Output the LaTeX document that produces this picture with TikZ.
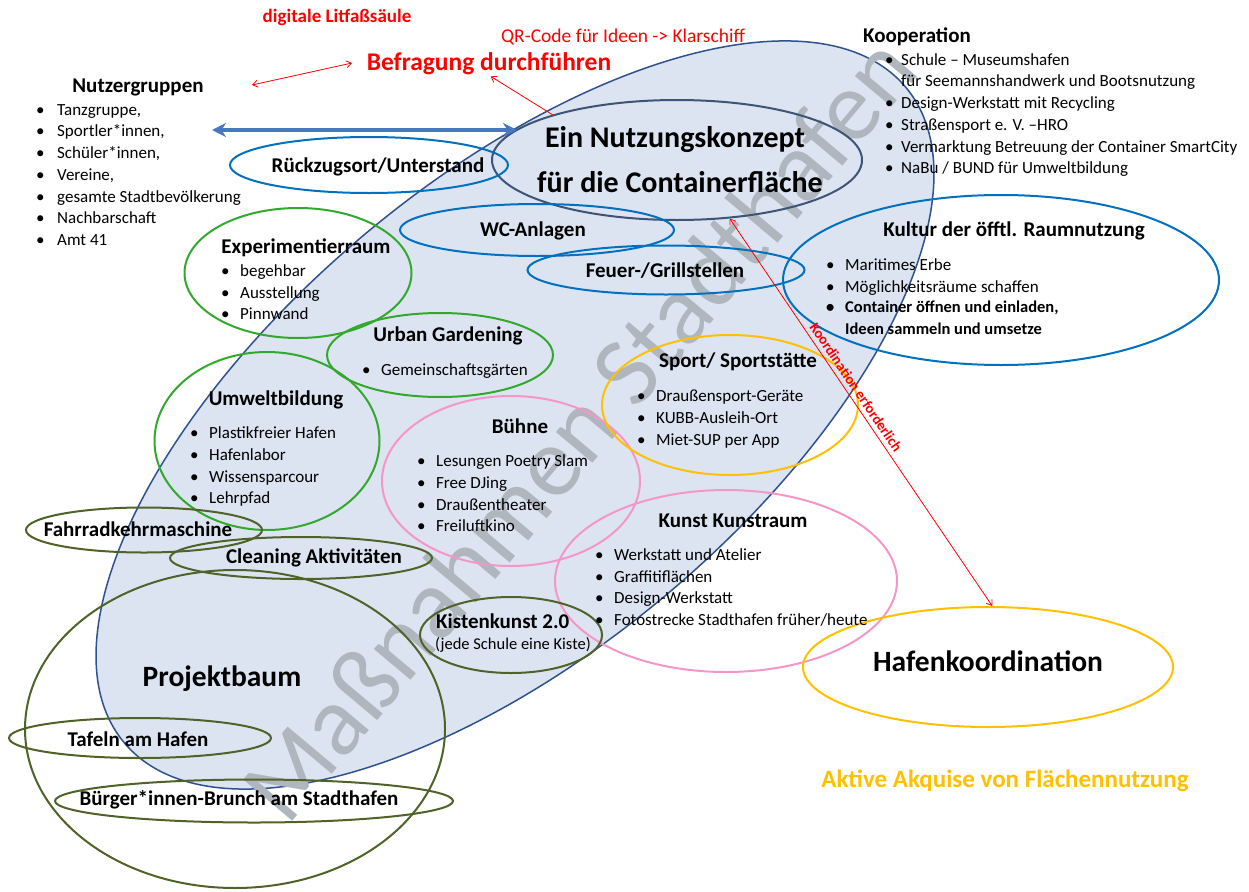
\documentclass[tikz,border=0pt]{standalone}
\usepackage{fontspec}
\setmainfont{Carlito}
\usetikzlibrary{shapes.geometric,arrows.meta,positioning}

\definecolor{massfill}{RGB}{220,228,241}
\definecolor{massline}{RGB}{47,82,143}
\definecolor{konzline}{RGB}{62,84,118}
\definecolor{blauline}{RGB}{0,112,192}
\definecolor{gruenline}{RGB}{50,168,45}
\definecolor{rosaline}{RGB}{245,150,200}
\definecolor{gelbline}{RGB}{255,192,0}
\definecolor{olivline}{RGB}{79,98,40}
\definecolor{pfeilblau}{RGB}{74,120,190}
\definecolor{wasserz}{RGB}{176,182,190}

\newcommand{\bul}[1][19pt]{\makebox[#1][l]{\textbullet}}

\tikzset{
  ell/.style={ellipse, draw, line width=2pt, inner sep=0pt},
  ttl/.style={inner sep=0pt, font=\fontsize{21}{25}\selectfont\bfseries},
  li/.style={anchor=base west, inner sep=0pt, font=\fontsize{17}{20}\selectfont},
  lib/.style={anchor=base west, inner sep=0pt, font=\fontsize{16.5}{20}\selectfont\bfseries},
  rot/.style={text=red, inner sep=0pt},
  barb/.style={red, line width=0.8pt},
}

\begin{document}
\begin{tikzpicture}[x=1pt,y=-1pt]
\useasboundingbox (0,0) rectangle (1249,891);
% grosse Flaeche
\node[ellipse, draw=massline, fill=massfill, line width=1.5pt, minimum width=1020, minimum height=470, rotate=40] (mass) at (515,415) {};
\node[rotate=50, text=wasserz, inner sep=0pt, font=\fontsize{100}{100}\selectfont] (wz) at (578,428) {Maßnahmen Stadthafen};
% Ellipsen
\node[ell, draw=konzline, minimum width=370, minimum height=120] (konz) at (677,160) {};
\node[ell, draw=blauline, minimum width=278, minimum height=56] (rueck) at (369,165) {};
\node[ell, draw=blauline, minimum width=274, minimum height=52] (wc) at (537,230) {};
\node[ell, draw=blauline, minimum width=277, minimum height=49] (feuer) at (666,270) {};
\node[ell, draw=blauline, minimum width=436, minimum height=170] (kultur) at (1001,280) {};
\node[ell, draw=gruenline, minimum width=227, minimum height=130] (exp) at (298,273) {};
\node[ell, draw=gruenline, minimum width=226, minimum height=84] (urban) at (440,355) {};
\node[ell, draw=gruenline, minimum width=225, minimum height=178] (umwelt) at (267,441) {};
\node[ell, draw=rosaline, minimum width=258, minimum height=170] (buehne) at (511,481) {};
\node[ell, draw=gelbline, minimum width=256, minimum height=140] (sport) at (730,405) {};
\node[ell, draw=rosaline, minimum width=342, minimum height=182] (kunst) at (726,581) {};
\node[ell, draw=gelbline, minimum width=370, minimum height=120] (hafen) at (988,667) {};
\node[ell, draw=olivline, minimum width=236, minimum height=45] (kehr) at (144,530) {};
\node[ell, draw=olivline, minimum width=262, minimum height=42] (clean) at (301,558) {};
\node[ell, draw=olivline, minimum width=420, minimum height=318] (baum) at (235,729) {};
\node[ell, draw=olivline, minimum width=262, minimum height=40] (tafeln) at (140,738) {};
\node[ell, draw=olivline, minimum width=398, minimum height=43] (brunch) at (254,801) {};
\node[ell, draw=olivline, minimum width=182, minimum height=76] (kisten) at (511,635) {};
% rote Texte
\node[rot, font=\fontsize{19}{22}\selectfont\bfseries] (litfass) at (337,17) {digitale Litfaßsäule};
\node[rot, font=\fontsize{19.5}{23}\selectfont] (qr) at (623,37) {QR-Code für Ideen -> Klarschiff};
\node[rot, font=\fontsize{25.5}{30}\selectfont\bfseries] (befr) at (489,64) {Befragung durchführen};
% Nutzergruppen
\node[ttl] (nutzer) at (138,87) {Nutzergruppen};
\node[li] (nu1) at (36,115) {\bul[21pt]Tanzgruppe,};
\node[li] (nu2) at (36,136) {\bul[21pt]Sportler*innen,};
\node[li] (nu3) at (36,158) {\bul[21pt]Schüler*innen,};
\node[li] (nu4) at (36,180) {\bul[21pt]Vereine,};
\node[li] (nu5) at (36,202) {\bul[21pt]gesamte Stadtbevölkerung};
\node[li] (nu6) at (36,223) {\bul[21pt]Nachbarschaft};
\node[li] (nu7) at (36,245) {\bul[21pt]Amt 41};
% Kooperation
\node[ttl, anchor=west] (koop) at (863,37) {Kooperation};
\node[li] (ko1) at (885,65) {\bul[16pt]Schule – Museumshafen};
\node[li] (ko1b) at (901,86) {für Seemannshandwerk und Bootsnutzung};
\node[li] (ko2) at (885,108) {\bul[16pt]Design-Werkstatt mit Recycling};
\node[li] (ko3) at (885,130) {\bul[16pt]Straßensport e. V. –HRO};
\node[li] (ko4) at (885,152) {\bul[16pt]Vermarktung Betreuung der Container SmartCity};
\node[li] (ko5) at (885,173) {\bul[16pt]NaBu / BUND für Umweltbildung};
% Mitte
\node[inner sep=0pt, font=\fontsize{30}{35}\selectfont\bfseries] (konz1) at (675,140) {Ein Nutzungskonzept};
\node[inner sep=0pt, font=\fontsize{30}{35}\selectfont\bfseries] (konz2) at (680,182) {für die Containerfläche};
\node[ttl] (rueckt) at (378,167) {Rückzugsort/Unterstand};
\node[ttl] (wct) at (533,231) {WC-Anlagen};
\node[ttl] (feuert) at (665,271) {Feuer-/Grillstellen};
% Kultur
\node[ttl] (kulturt) at (1014,231) {Kultur der öfftl. Raumnutzung};
\node[li] (ku1) at (826,270) {\bul Maritimes Erbe};
\node[li] (ku2) at (826,292) {\bul Möglichkeitsräume schaffen};
\node[lib] (ku3) at (826,312) {\bul Container öffnen und einladen,};
\node[lib] (ku3b) at (845,334) {Ideen sammeln und umsetze};
% Experimentierraum
\node[ttl] (expt) at (306,248) {Experimentierraum};
\node[li] (ex1) at (221,276) {\bul begehbar};
\node[li] (ex2) at (221,298) {\bul Ausstellung};
\node[li] (ex3) at (221,319) {\bul Pinnwand};
% Urban Gardening
\node[ttl] (urbant) at (448,336) {Urban Gardening};
\node[li] (ur1) at (362,375) {\bul Gemeinschaftsgärten};
% Umweltbildung
\node[ttl] (umweltt) at (276,400) {Umweltbildung};
\node[li] (um1) at (190,438) {\bul Plastikfreier Hafen};
\node[li] (um2) at (190,460) {\bul Hafenlabor};
\node[li] (um3) at (190,482) {\bul Wissensparcour};
\node[li] (um4) at (190,503) {\bul Lehrpfad};
% Buehne
\node[ttl] (buehnet) at (520,426) {Bühne};
\node[li] (bu1) at (417,466) {\bul Lesungen Poetry Slam};
\node[li] (bu2) at (417,488) {\bul Free DJing};
\node[li] (bu3) at (417,510) {\bul Draußentheater};
\node[li] (bu4) at (417,531) {\bul Freiluftkino};
% Sport
\node[ttl] (sportt) at (738,362) {Sport/ Sportstätte};
\node[li] (sp1) at (637,401) {\bul Draußensport-Geräte};
\node[li] (sp2) at (637,423) {\bul KUBB-Ausleih-Ort};
\node[li] (sp3) at (637,445) {\bul Miet-SUP per App};
% Kunst
\node[ttl] (kunstt) at (733,521) {Kunst Kunstraum};
\node[li] (kn1) at (595,560) {\bul Werkstatt und Atelier};
\node[li] (kn2) at (595,582) {\bul Graffitiflächen};
\node[li] (kn3) at (595,603) {\bul Design-Werkstatt};
\node[li] (kn4) at (595,625) {\bul Fotostrecke Stadthafen früher/heute};
% unten links
\node[ttl] (kehrt) at (138,529) {Fahrradkehrmaschine};
\node[ttl] (cleant) at (314,558) {Cleaning Aktivitäten};
\node[inner sep=0pt, font=\fontsize{29.5}{34}\selectfont\bfseries] (baumt) at (222,679) {Projektbaum};
\node[ttl] (tafelnt) at (138,739) {Tafeln am Hafen};
\node[ttl] (bruncht) at (239,800) {Bürger*innen-Brunch am Stadthafen};
\node[ttl, anchor=west] (kistent) at (436,621) {Kistenkunst 2.0};
\node[inner sep=0pt, font=\fontsize{16.5}{20}\selectfont] (kistenu) at (513,645) {(jede Schule eine Kiste)};
% rechts unten
\node[inner sep=0pt, font=\fontsize{29.5}{34}\selectfont\bfseries] (hafent) at (988,661) {Hafenkoordination};
\node[inner sep=0pt, text=gelbline, font=\fontsize{25}{30}\selectfont\bfseries] (akquise) at (1005,781) {Aktive Akquise von Flächennutzung};
% Pfeile
\coordinate (lsA) at (252,85);
\coordinate (lsB) at (352,63);
\draw[barb, {Straight Barb[length=5pt,width=7pt]}-{Straight Barb[length=5pt,width=7pt]}] (lsA) -- (lsB);
\coordinate (qrfuss) at (553,115);
\draw[barb, -{Straight Barb[length=5pt,width=7pt]}, shorten >=2pt] (qrfuss) -- (befr.south);
\coordinate (nuL) at (212,130);
\coordinate (nuR) at (517,130);
\draw[pfeilblau, line width=3.5pt, {Stealth[length=14pt,width=14pt]}-{Stealth[length=14pt,width=14pt]}] (nuL) -- (nuR);
\draw[barb, {Straight Barb[length=5pt,width=7pt]}-{Straight Barb[length=5pt,width=7pt]}] (konz.-48) -- node[sloped, above=1pt, pos=0.45, text=red, font=\fontsize{14.5}{17}\selectfont\bfseries] (koordt) {Koordination erforderlich} (hafen.86);
\end{tikzpicture}
\end{document}
